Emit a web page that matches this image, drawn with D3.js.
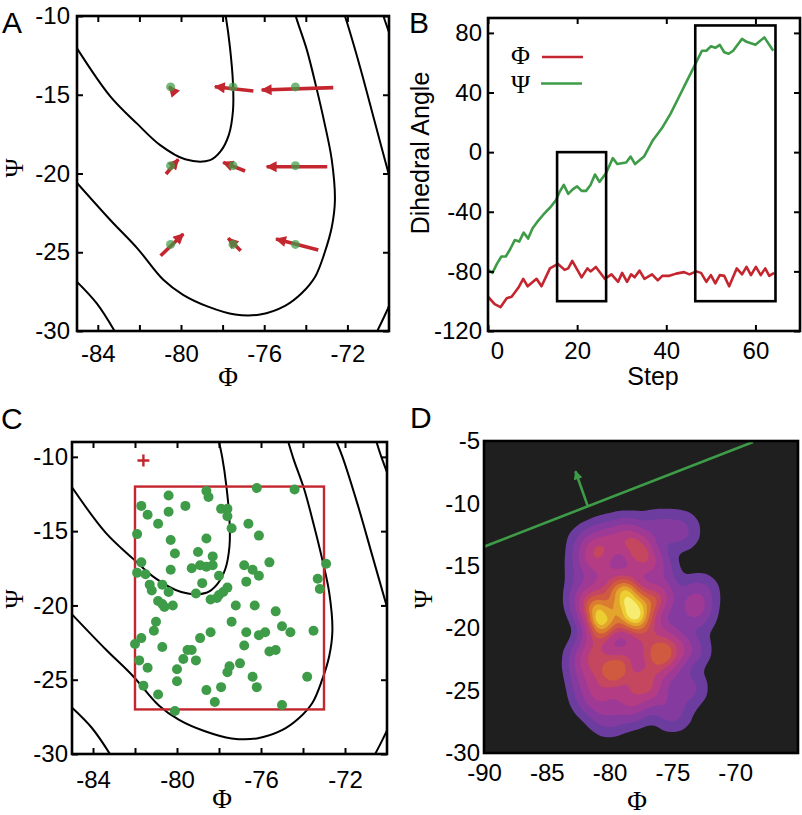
<!DOCTYPE html>
<html>
  <head>
    <meta charset="utf-8" />
    <title>Dihedral sampling</title>
    <script src="https://d3js.org/d3.v7.min.js"></script>
    <style>
      body { margin: 0; background: #fff; }
    </style>
  </head>
  <body>
    <svg id="fig" width="802" height="815"></svg>
    <script>
      // ---------- data ----------
      // A: sample grid and the red displacement arrows
      var gridPhi = [-80.5, -77.5, -74.5];
      var gridPsi = [-14.5, -19.5, -24.5];
      var tailPhi = [-80.37, -76.52, -72.68, -80.72, -76.92, -72.97, -80.98, -77.13, -73.4];
      var tailPsi = [-14.78, -14.76, -14.55, -20.03, -19.84, -19.57, -25.22, -24.9, -24.86];
      var headPhi = [-80.56, -78.37, -76.12, -80.13, -77.97, -75.88, -79.89, -77.73, -75.43];
      var headPsi = [-14.49, -14.49, -14.7, -19.1, -19.29, -19.57, -23.84, -24.11, -24.16];

      // energy contour lines shared by A and C, [phi, psi]
      var contourLines = [
        [[-85,-12.05],[-83.4,-15.1],[-82.1,-16.85],[-81,-18.2],[-79.8,-19.1],[-78.6,-19.15],[-78.1,-18.6],[-77.7,-17.55],[-77.5,-16],[-77.5,-14.3],[-77.65,-11.95],[-77.85,-10],[-78,-9]],
        [[-85,-20.6],[-83.4,-22.95],[-82.1,-24.75],[-80.85,-26.75],[-79.9,-27.7],[-78.7,-28.45],[-77.4,-28.95],[-76.2,-28.95],[-75,-28.4],[-74.2,-27.6],[-73.55,-26.55],[-73.1,-25.05],[-72.75,-23.4],[-72.6,-21.7],[-72.75,-19.15],[-73.1,-16.8],[-73.5,-14.5],[-73.95,-12.15],[-74.45,-10.15],[-74.7,-9]],
        [[-72.4,-9],[-72.12,-10],[-71.4,-13.2],[-70.67,-16.8],[-69.9,-20.6]],
        [[-70.5,-9],[-70.27,-10],[-69.9,-11.4]],
        [[-85.1,-26.75],[-84.05,-28.25],[-83.15,-30.1]],
        [[-70.6,-30.1],[-70.2,-29],[-69.9,-28.1]]
      ];

      // B: dihedral angle traces
      var psiStep = [0,1,2,3,4,5,6,7,8,9,10,11,12.4,13,14,15.3,16,17,18,19,20,21,22,23,24,25,26.5,28,29,31,32,33,35,37,39,41,43,45,47,48,49,50,51,52,53,54,55,56,57,58,60,62,64];
      var psiVal  = [-79,-81,-75,-70,-70,-65,-59,-60,-54,-58,-51,-47,-42,-40,-37,-32,-27,-22,-28,-25,-23,-26,-26,-22,-15,-20,-14,-4,-8,-7,-3,-8,-3,8,16,26,38,50,62,68,68,71,70,72,67,66,68,72,76,74,72,77,68];
      var phiStep = [0,1.5,2.8,4.2,5.3,6.8,7.9,8.9,10.9,12,13.9,15.7,17.2,18,18.9,21,22.3,23,24.2,26.2,27.7,29.2,30.1,31.2,32.1,32.9,34,35.1,36.8,38.1,39.1,40.7,42.2,44,45.2,46.7,47.8,49,50,51,52,53,54.1,55.8,57,58,59,60.1,61.2,62.2,63.1,64.2];
      var phiVal  = [-97,-102,-104,-98,-97,-91,-85,-90,-85,-90,-78,-75,-79,-78,-73,-84,-78,-80,-77,-85,-82,-87,-81,-87,-82,-84,-79.5,-85,-82,-86,-83,-83,-81.5,-80.5,-82,-80,-81,-87,-82.5,-88,-82.5,-83,-90,-78,-82,-77,-82.5,-77,-82.5,-78,-83,-81];
      // windows: [step0, step1, angle0, angle1]
      var windows = [[15.5, 26.5, -100, 0], [46.5, 64.5, -100, 85]];

      // C: sampled points, target box and start point
      var cPhi = [-80.4,-78.6,-78.5,-76.2,-74.4,-81.7,-79.6,-81.4,-80.4,-77.9,-77.6,-77.6,-80.9,-77.4,-76.6,-81.9,-80.3,-78.6,-76.1,-80.1,
                  -79.0,-78.3,-81.7,-80.3,-79.3,-78.9,-78.6,-78.3,-76.8,-76.4,-75.6,-72.9,-81.9,-81.5,-81.3,-81.2,-80.7,-80.4,-78.8,-78.0,
                  -76.7,-76.1,-73.3,-73.2,-79.1,-77.6,-77.8,-78.0,-78.1,-78.4,-80.9,-80.7,-80.6,-80.2,-77.2,-76.3,-75.3,-81.0,-81.1,-77.4,
                  -75.0,-74.6,-73.5,-76.7,-76.1,-75.8,-82.0,-81.7,-80.7,-78.4,-78.9,-79.5,-79.3,-79.1,-79.7,-76.8,-75.6,-75.3,-81.8,-81.4,
                  -80.0,-77.5,-77.0,-77.6,-80.0,-76.4,-73.8,-81.6,-78.6,-77.9,-76.2,-80.9,-78.2,-75.0,-80.1];
      var cPsi = [-12.6,-12.3,-12.7,-12.1,-12.2,-13.3,-13.3,-13.9,-13.7,-13.5,-13.5,-14.0,-14.5,-14.8,-14.5,-15.2,-15.6,-15.5,-15.3,-16.5,
                  -16.4,-16.7,-17.1,-17.6,-17.5,-17.3,-17.4,-17.3,-17.3,-17.6,-17.1,-17.2,-17.8,-17.9,-18.6,-19.0,-18.6,-19.1,-18.5,-18.0,
                  -18.4,-18.0,-18.2,-18.9,-19.2,-18.8,-19.1,-19.3,-19.5,-19.6,-19.7,-19.9,-20.1,-20.0,-20.0,-20.0,-20.4,-21.1,-21.7,-21.1,
                  -21.4,-21.8,-21.7,-21.8,-22.0,-21.8,-22.6,-22.2,-22.8,-21.8,-22.2,-23.0,-23.0,-23.7,-23.6,-22.7,-23.1,-23.0,-23.7,-24.2,
                  -24.3,-24.1,-23.9,-24.5,-25.1,-24.8,-24.8,-25.4,-25.7,-25.5,-25.5,-26.0,-26.5,-26.7,-27.1];
      var targetBox = [-82, -73, -27, -12];
      var startPoint = [-81.6, -10.25];

      // D: density of the C samples, move direction
      var densLevels = [0.025, 0.1, 0.22, 0.36, 0.5, 0.6, 0.7, 0.79, 0.87, 0.94];
      var densColors = ["#6c3d9f", "#853a9f", "#9e3a96", "#b33c84", "#c5465f", "#d05a3f", "#da7d2f", "#e4a52d", "#ecce33", "#f6ec72"];
      var dividerLine = [[-90, -13.47], [-68.58, -5.08]];
      var moveArrow = [[-81.72, -10.28], [-82.72, -7.42]];

      // ---------- drawing ----------
      var svg = d3.select("#fig");
      var RED = "#c3262e", GREEN = "#3e9c48";
      var SANS = "'Liberation Sans', Arial, sans-serif";
      var SERIF = "'Liberation Serif', 'Times New Roman', serif";
      var defs = svg.append("defs");

      function arrowMarker(id, color, w, h) {
        defs.append("marker").attr("id", id)
          .attr("viewBox", "0 0 10 10").attr("refX", 9).attr("refY", 5)
          .attr("markerWidth", w).attr("markerHeight", h)
          .attr("markerUnits", "userSpaceOnUse").attr("orient", "auto")
          .append("path").attr("d", "M0,0L10,5L0,10z").attr("fill", color);
      }
      arrowMarker("headRed", RED, 12, 11);
      arrowMarker("headGreen", GREEN, 10, 9);

      function makePanel(id, box, xd, yd) {
        var g = svg.append("g").attr("id", id);
        var x = d3.scaleLinear().domain(xd).range([box[0], box[1]]);
        var y = d3.scaleLinear().domain(yd).range([box[3], box[2]]);
        defs.append("clipPath").attr("id", id + "clip").append("rect")
          .attr("x", box[0]).attr("y", box[2])
          .attr("width", box[1] - box[0]).attr("height", box[3] - box[2]);
        var plot = g.append("g").attr("clip-path", "url(#" + id + "clip)");
        return {g: g, plot: plot, x: x, y: y, box: box};
      }

      function drawAxes(p, o) {
        var b = p.box, t = o.tick;
        var fmt = function(d) { return String(d); };
        var none = function() { return ""; };
        function add(axis, tr) {
          var s = p.g.append("g").attr("transform", tr).call(axis);
          s.attr("font-size", 24).attr("font-family", SANS);
          s.select(".domain").remove();
          s.selectAll("line").attr("stroke", "#000").attr("stroke-width", 2);
          s.selectAll("text").attr("fill", "#000");
          return s;
        }
        var bx = add(d3.axisBottom(p.x).tickValues(o.xt).tickSize(-t).tickPadding(o.padX).tickFormat(fmt), "translate(0," + b[3] + ")");
        add(d3.axisLeft(p.y).tickValues(o.yt).tickSize(-t).tickPadding(o.padY).tickFormat(fmt), "translate(" + b[0] + ",0)");
        var xall = o.xt.concat(o.xm || []);
        if (t > 0) {
          add(d3.axisBottom(p.x).tickValues(o.xm || []).tickSize(-t).tickFormat(none), "translate(0," + b[3] + ")");
          add(d3.axisTop(p.x).tickValues(xall).tickSize(-t).tickFormat(none), "translate(0," + b[2] + ")");
          add(d3.axisRight(p.y).tickValues(o.yt).tickSize(-t).tickFormat(none), "translate(" + b[1] + ",0)");
        }
        return bx;
      }

      function frame(p) {
        var b = p.box;
        p.g.append("rect").attr("x", b[0]).attr("y", b[2])
          .attr("width", b[1] - b[0]).attr("height", b[3] - b[2])
          .attr("fill", "none").attr("stroke", "#000").attr("stroke-width", 2.6);
      }

      function label(txt, x, y, size, font, rot) {
        var t = svg.append("text").text(txt).attr("font-size", size)
          .attr("font-family", font).attr("fill", "#000");
        if (rot) {
          t.attr("transform", "translate(" + x + "," + y + ") rotate(-90)").attr("text-anchor", "middle");
        } else {
          t.attr("x", x).attr("y", y);
        }
        return t;
      }

      function drawContours(p) {
        var line = d3.line().x(function(d) { return p.x(d[0]); })
          .y(function(d) { return p.y(d[1]); }).curve(d3.curveCatmullRom.alpha(0.5));
        p.plot.selectAll("path.contour").data(contourLines).join("path")
          .attr("class", "contour").attr("d", line)
          .attr("fill", "none").attr("stroke", "#000").attr("stroke-width", 2);
      }

      // ---- Panel A ----
      var A = makePanel("A", [77, 389, 16, 331], [-85, -70], [-30, -10]);
      drawContours(A);
      A.plot.selectAll("line.move").data(tailPhi).join("line")
        .attr("x1", function(d, i) { return A.x(tailPhi[i]); })
        .attr("y1", function(d, i) { return A.y(tailPsi[i]); })
        .attr("x2", function(d, i) { return A.x(headPhi[i]); })
        .attr("y2", function(d, i) { return A.y(headPsi[i]); })
        .attr("stroke", RED).attr("stroke-width", 3.6)
        .attr("marker-end", "url(#headRed)");
      var grid = d3.cross(gridPhi, gridPsi);
      A.plot.selectAll("circle").data(grid).join("circle")
        .attr("cx", function(d) { return A.x(d[0]); })
        .attr("cy", function(d) { return A.y(d[1]); })
        .attr("r", 4.5).attr("fill", GREEN).attr("fill-opacity", 0.72);
      drawAxes(A, {xt: [-84, -80, -76, -72], xm: [-82, -78, -74], yt: [-30, -25, -20, -15, -10], tick: 6, padX: 14, padY: 7});
      frame(A);
      label("A", 2, 33, 30, SANS);
      label("\u03a6", 228, 386, 27, SERIF).attr("text-anchor", "middle");
      label("\u03a8", 23, 168, 26, SERIF, true);

      // ---- Panel B ----
      var B = makePanel("B", [488, 800, 18, 331], [0, 70], [-120, 90]);
      var bLine = d3.line().x(function(d) { return B.x(d[0]); }).y(function(d) { return B.y(d[1]); });
      B.plot.append("path").datum(d3.zip(phiStep, phiVal)).attr("d", bLine)
        .attr("fill", "none").attr("stroke", RED).attr("stroke-width", 2.6).attr("stroke-linejoin", "round");
      B.plot.append("path").datum(d3.zip(psiStep, psiVal)).attr("d", bLine)
        .attr("fill", "none").attr("stroke", GREEN).attr("stroke-width", 2.6).attr("stroke-linejoin", "round");
      B.plot.selectAll("rect.win").data(windows).join("rect")
        .attr("x", function(d) { return B.x(d[0]); })
        .attr("y", function(d) { return B.y(d[3]); })
        .attr("width", function(d) { return B.x(d[1]) - B.x(d[0]); })
        .attr("height", function(d) { return B.y(d[2]) - B.y(d[3]); })
        .attr("fill", "none").attr("stroke", "#000").attr("stroke-width", 2.6);
      var bx = drawAxes(B, {xt: [0, 20, 40, 60], xm: [], yt: [-120, -80, -40, 0, 40, 80], tick: 6, padX: 11, padY: 6});
      bx.selectAll(".tick text").attr("dx", function(d) { return d === 0 ? 9 : 0; });
      frame(B);
      label("B", 409, 33, 30, SANS);
      label("Dihedral Angle", 429, 153, 25, SANS, true);
      label("Step", 653, 385, 25, SANS).attr("text-anchor", "middle");
      label("\u03a6", 511, 64, 26, SERIF);
      label("\u03a8", 511, 93, 26, SERIF);
      svg.append("line").attr("x1", 542).attr("x2", 583).attr("y1", 57).attr("y2", 57)
        .attr("stroke", RED).attr("stroke-width", 2.6);
      svg.append("line").attr("x1", 541).attr("x2", 582).attr("y1", 83.5).attr("y2", 83.5)
        .attr("stroke", GREEN).attr("stroke-width", 2.6);

      // ---- Panel C ----
      var C = makePanel("C", [72, 387, 442, 754], [-85, -70], [-30, -9]);
      drawContours(C);
      C.plot.append("rect")
        .attr("x", C.x(targetBox[0])).attr("y", C.y(targetBox[3]))
        .attr("width", C.x(targetBox[1]) - C.x(targetBox[0]))
        .attr("height", C.y(targetBox[2]) - C.y(targetBox[3]))
        .attr("fill", "none").attr("stroke", RED).attr("stroke-width", 2.4);
      C.plot.selectAll("circle").data(d3.zip(cPhi, cPsi)).join("circle")
        .attr("cx", function(d) { return C.x(d[0]); })
        .attr("cy", function(d) { return C.y(d[1]); })
        .attr("r", 5).attr("fill", GREEN);
      var sp = [C.x(startPoint[0]), C.y(startPoint[1])];
      C.plot.append("path")
        .attr("d", "M" + (sp[0] - 6) + "," + sp[1] + "H" + (sp[0] + 6) + "M" + sp[0] + "," + (sp[1] - 6) + "V" + (sp[1] + 6))
        .attr("stroke", RED).attr("stroke-width", 2.4);
      drawAxes(C, {xt: [-84, -80, -76, -72], xm: [-82, -78, -74], yt: [-30, -25, -20, -15, -10], tick: 6, padX: 17, padY: 4});
      frame(C);
      label("C", 1, 429, 30, SANS);
      label("\u03a6", 222, 808, 27, SERIF).attr("text-anchor", "middle");
      label("\u03a8", 23, 599, 26, SERIF, true);

      // ---- Panel D ----
      var D = makePanel("D", [484, 798, 441, 753], [-90, -65], [-30, -5]);
      D.plot.append("rect").attr("x", 484).attr("y", 441).attr("width", 314).attr("height", 312).attr("fill", "#1f1f1f");
      var samples = d3.zip(cPhi, cPsi);
      var dens = d3.contourDensity()
        .x(function(d) { return D.x(d[0]); })
        .y(function(d) { return D.y(d[1]); })
        .size([802, 815]).cellSize(2).bandwidth(10);
      var probe = dens.thresholds(80)(samples);
      var peak = d3.max(probe, function(c) { return c.value; });
      var bands = dens.thresholds(densLevels.map(function(f) { return f * peak; }))(samples);
      D.plot.selectAll("path.band").data(bands).join("path")
        .attr("class", "band").attr("d", d3.geoPath())
        .attr("fill", function(d, i) { return densColors[i]; });
      D.plot.append("line")
        .attr("x1", D.x(dividerLine[0][0])).attr("y1", D.y(dividerLine[0][1]))
        .attr("x2", D.x(dividerLine[1][0])).attr("y2", D.y(dividerLine[1][1]))
        .attr("stroke", GREEN).attr("stroke-width", 2.6);
      D.plot.append("line")
        .attr("x1", D.x(moveArrow[0][0])).attr("y1", D.y(moveArrow[0][1]))
        .attr("x2", D.x(moveArrow[1][0])).attr("y2", D.y(moveArrow[1][1]))
        .attr("stroke", GREEN).attr("stroke-width", 2.6)
        .attr("marker-end", "url(#headGreen)");
      drawAxes(D, {xt: [-90, -85, -80, -75, -70], xm: [], yt: [-30, -25, -20, -15, -10, -5], tick: 0, padX: 11, padY: 4});
      frame(D);
      label("D", 410, 428, 30, SANS);
      label("\u03a6", 637, 810, 27, SERIF).attr("text-anchor", "middle");
      label("\u03a8", 432, 599, 26, SERIF, true);
    </script>
  </body>
</html>
